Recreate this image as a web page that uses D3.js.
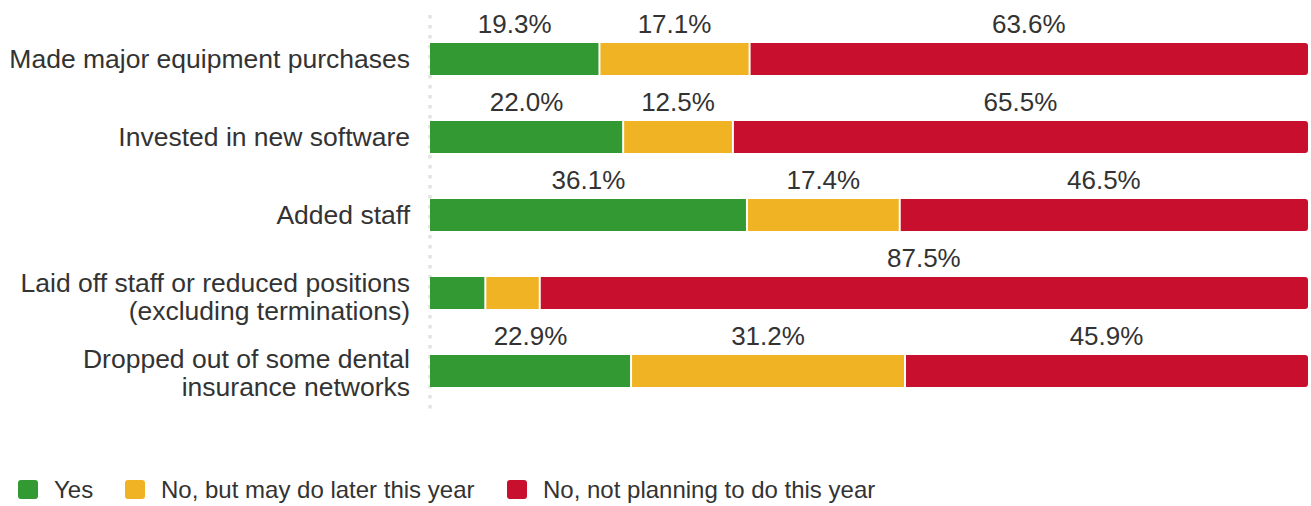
<!DOCTYPE html>
<html><head><meta charset="utf-8">
<script src="https://cdn.jsdelivr.net/npm/d3@7"></script>
<style>body{margin:0;background:#fff;} text{font-family:"Liberation Sans",Arial,sans-serif;fill:#333;}</style>
</head><body>
<svg id="c" width="1311" height="506"></svg>
<script>
const categories = [
  ["Made major equipment purchases"],
  ["Invested in new software"],
  ["Added staff"],
  ["Laid off staff or reduced positions", "(excluding terminations)"],
  ["Dropped out of some dental", "insurance networks"]
];
const seriesNames = ["Yes", "No, but may do later this year", "No, not planning to do this year"];
const yesValues = [19.3, 22.0, 36.1, 6.3, 22.9];
const maybeValues = [17.1, 12.5, 17.4, 6.2, 31.2];
const noValues = [63.6, 65.5, 46.5, 87.5, 45.9];
const colors = ["#339933", "#f0b323", "#c8102e"];

(function () {
const svg = d3.select("#c");
const mLeft = 430, mRight = 1308, mTop = 20, mBottom = 410;
const x = d3.scaleLinear().domain([0, 100]).range([mLeft, mRight]);
const y = d3.scaleBand().domain(d3.range(categories.length)).range([mTop, mBottom]);
const barH = 32;
const labelShift = [0, 0, 0, 4, 2];

svg.append("line").attr("x1", mLeft).attr("x2", mLeft).attr("y1", 15).attr("y2", mBottom)
  .attr("stroke", "#e3e3e3").attr("stroke-width", 3.5).attr("stroke-dasharray", "3.5,6.5");

const series = [yesValues, maybeValues, noValues];
categories.forEach((cat, i) => {
  let acc = 0;
  const cy = y(i) + y.bandwidth() / 2;
  series.forEach((vals, s) => {
    const v = vals[i];
    const x0 = x(acc), x1 = x(acc + v);
    const y0 = cy - barH / 2, y1 = cy + barH / 2;
    if (s === series.length - 1) {
      const r = 3;
      const p = d3.path();
      p.moveTo(x0, y0); p.lineTo(x1 - r, y0); p.arcTo(x1, y0, x1, y0 + r, r);
      p.lineTo(x1, y1 - r); p.arcTo(x1, y1, x1 - r, y1, r); p.lineTo(x0, y1); p.closePath();
      svg.append("path").attr("d", p.toString()).attr("fill", colors[s]);
    } else {
      svg.append("rect").attr("x", x0).attr("y", y0).attr("width", x1 - x0).attr("height", barH).attr("fill", colors[s]);
    }
    if (s > 0) {
      svg.append("line").attr("x1", x0).attr("x2", x0).attr("y1", y0).attr("y2", y1)
        .attr("stroke", "#fff").attr("stroke-width", 2);
    }
    if (v >= 10) {
      svg.append("text").attr("x", (x0 + x1) / 2).attr("y", y0 - 10)
        .attr("text-anchor", "middle").attr("font-size", 26).text(v.toFixed(1) + "%");
    }
    acc += v;
  });
  const lines = cat;
  const lh = 28;
  const t = svg.append("text").attr("text-anchor", "end").attr("font-size", 26.5);
  lines.forEach((ln, k) => {
    t.append("tspan").attr("x", 410)
      .attr("y", cy + 9 + labelShift[i] + (k - (lines.length - 1) / 2) * lh).text(ln);
  });
});

const legX = [18, 125, 507];
seriesNames.forEach((n, s) => {
  svg.append("rect").attr("x", legX[s]).attr("y", 480).attr("width", 20).attr("height", 19)
    .attr("rx", 3).attr("fill", colors[s]);
  svg.append("text").attr("x", legX[s] + 36).attr("y", 498).attr("font-size", 24).text(n);
});
})();
</script>
</body></html>
